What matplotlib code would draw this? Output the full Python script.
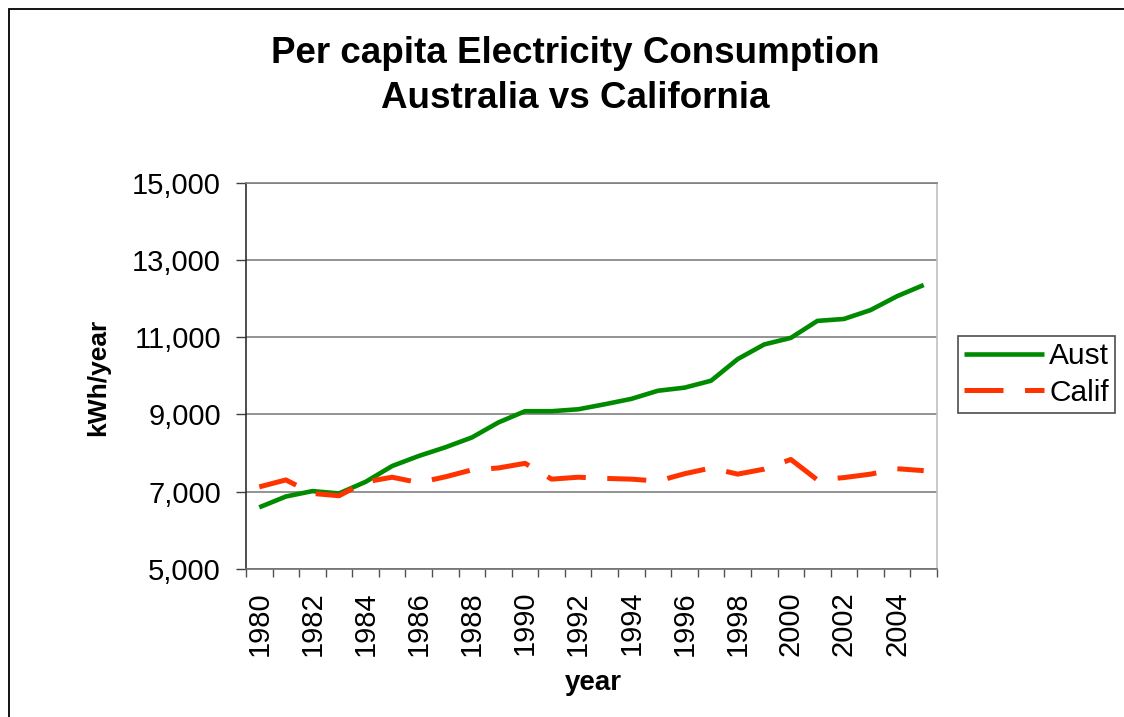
import matplotlib
matplotlib.use("Agg")
import matplotlib.pyplot as plt
from matplotlib.patches import Rectangle
from matplotlib.ticker import FixedLocator, FuncFormatter

plt.rcParams["font.family"] = ["Liberation Sans", "DejaVu Sans"]

# data
years = list(range(1980, 2006))
aust = [6590, 6870, 7010, 6950, 7250, 7660, 7920, 8145, 8400, 8790,
        9080, 9080, 9130, 9260, 9400, 9610, 9690, 9870, 10430, 10810,
        10980, 11420, 11470, 11700, 12060, 12350]
calif = [7120, 7300, 6950, 6890, 7250, 7370, 7230, 7380, 7560, 7610,
         7730, 7320, 7370, 7340, 7320, 7270, 7460, 7610, 7450, 7580,
         7830, 7300, 7360, 7450, 7590, 7540]
year_labels = [str(y) for y in range(1980, 2005, 2)]
y_ticks = [5000, 7000, 9000, 11000, 13000, 15000]

W, H = 1124, 717
fig = plt.figure(figsize=(W / 100, H / 100), dpi=100)
ax = fig.add_axes([246 / W, 1 - 568.7 / H, 691 / W, 386 / H])

ax.plot(years, aust, color="#008a00", lw=3.3, label="Aust", solid_capstyle="butt")
ax.plot(years, calif, color="#ff3300", lw=3.6, dashes=(7.8, 4.3), label="Calif")

ax.set_xlim(1979.5, 2005.5)
ax.set_ylim(5000, 15000)

# y axis
ax.yaxis.set_major_locator(FixedLocator(y_ticks))
ax.yaxis.set_major_formatter(FuncFormatter(lambda v, p: f"{int(v):,}"))
ax.tick_params(axis="y", direction="out", length=7, width=1, color="#404040",
               labelsize=21, pad=11)
ax.grid(axis="y", color="#808080", lw=1.2)

# x axis: labels at category centres, ticks at boundaries
ax.set_xticks([int(s) for s in year_labels])
ax.set_xticklabels(year_labels, rotation=90)
ax.set_xticks([y - 0.5 for y in years] + [years[-1] + 0.5], minor=True)
ax.tick_params(axis="x", which="major", length=0, labelsize=21, pad=16)
ax.tick_params(axis="x", which="minor", direction="out", length=5.8, width=1,
               color="#505050")

ax.spines["left"].set_color("#303030")
ax.spines["bottom"].set_color("#707070")
ax.spines["top"].set_color("#808080")
ax.spines["right"].set_color("#c0c0c0")
for s in ax.spines.values():
    s.set_linewidth(1.2)

ax.set_ylabel("kWh/year", fontsize=19, fontweight="bold")
ax.yaxis.set_label_coords((110 - 246) / 691, (568.7 - 377.5) / 386)

fig.text(593 / W, 1 - 690 / H, "year", fontsize=20, fontweight="bold",
         ha="center", va="baseline")

fig.text(575 / W, 1 - 62.7 / H, "Per capita Electricity Consumption",
         fontsize=26.5, fontweight="bold", ha="center", va="baseline")
fig.text(575 / W, 1 - 107.7 / H, "Australia vs California",
         fontsize=26.5, fontweight="bold", ha="center", va="baseline")

leg = ax.legend(loc="upper left", bbox_to_anchor=(958 / W, 1 - 336 / H),
                bbox_transform=fig.transFigure, borderaxespad=0,
                fontsize=21.5, frameon=True, fancybox=False, shadow=False,
                handlelength=2.68, handletextpad=0.17, borderpad=0.2,
                labelspacing=0.3)
leg.get_frame().set_edgecolor("#202020")
leg.get_frame().set_linewidth(1.2)

# outer chart border (top and left visible)
fig.add_artist(Rectangle((9 / W, -0.1), 1.2, 1 - 9 / H + 0.1,
                         transform=fig.transFigure, fill=False,
                         edgecolor="black", lw=1.3, clip_on=False))

fig.savefig("out.png", dpi=100)
